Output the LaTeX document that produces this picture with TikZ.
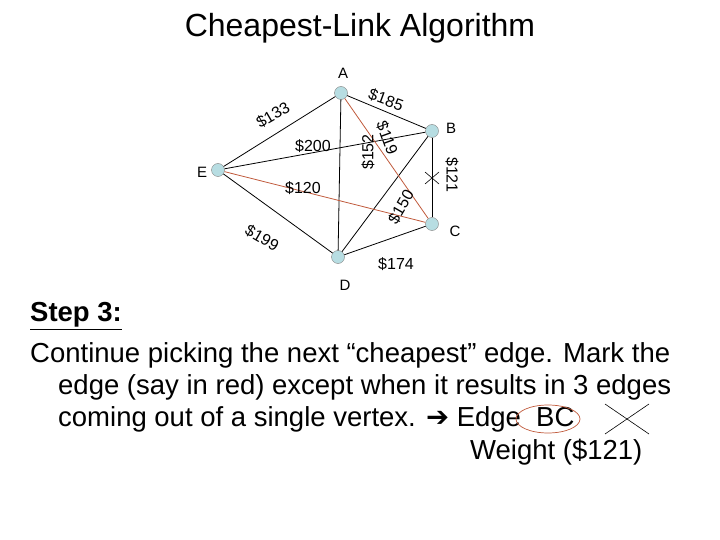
\documentclass[tikz,border=0pt]{standalone}
\usepackage{fontspec}
\setmainfont{Liberation Sans}
\usepackage{tikz}
\usetikzlibrary{positioning,calc}
\definecolor{vtx}{RGB}{183,221,226}
\definecolor{redge}{RGB}{192,90,60}
\tikzset{
  vertex/.style={circle,draw=gray,fill=vtx,minimum size=13pt,inner sep=0pt},
  edge/.style={draw=black,line width=0.8pt},
  redline/.style={draw=redge,line width=0.8pt},
  wlabel/.style={font=\fontsize{16}{16}\selectfont,inner sep=1pt},
  vlabel/.style={font=\fontsize{15}{15}\selectfont},
  bodytext/.style={font=\fontsize{27.5}{30}\selectfont,anchor=west,inner sep=0pt}
}
\begin{document}
\begin{tikzpicture}[x=1pt,y=-1pt]
\useasboundingbox (0,0) rectangle (720,540);
\node[font=\fontsize{32}{32}\selectfont] (title) at (360,28) {Cheapest-Link Algorithm};
% vertices
\node[vertex] (A) at (341,93) {};
\node[vertex] (B) at (432,131) {};
\node[vertex] (C) at (432,224) {};
\node[vertex] (D) at (338,257) {};
\node[vertex] (E) at (218,170) {};
\node[vlabel] at (343,73) {A};
\node[vlabel] at (451,128) {B};
\node[vlabel] at (455,231) {C};
\node[vlabel] at (345,285) {D};
\node[vlabel] at (202,172) {E};
% edges
\draw[edge] (A) -- (B);
\draw[edge] (A) -- (E);
\draw[edge] (A) -- (D);
\draw[edge] (E) -- (B);
\draw[edge] (E) -- (D);
\draw[edge] (B) -- (C);
\draw[edge] (B) -- (D);
\draw[edge] (D) -- (C);
\draw[redline] (A) -- (C);
\draw[redline] (E) -- (C);
% cross on BC
\coordinate (x) at (432,178);
\draw[line width=0.6pt] ($(x)+(-7,-6)$) -- ($(x)+(7,6)$) ($(x)+(-7,6)$) -- ($(x)+(7,-6)$);
% weights
\node[wlabel,rotate=-20] at (386,100) {\$185};
\node[wlabel,rotate=30] at (273,115) {\$133};
\node[wlabel] at (313,146) {\$200};
\node[wlabel,rotate=90] at (368,152) {\$152};
\node[wlabel,rotate=-70] at (387,138) {\$119};
\node[wlabel,rotate=-90] at (452,175) {\$121};
\node[wlabel] at (303,188) {\$120};
\node[wlabel,rotate=60] at (401,207) {\$150};
\node[wlabel,rotate=-30] at (262,238) {\$199};
\node[wlabel] at (396,264) {\$174};
% text
\node[bodytext,font=\bfseries\fontsize{27.5}{30}\selectfont] (step) at (30,316) {\underline{Step 3:}};
\node[bodytext] (l1) at (30,355) {Continue picking the next “cheapest” edge. Mark the};
\node[bodytext] (l2) at (58,387) {edge (say in red) except when it results in 3 edges};
\node[bodytext] (l3) at (58,419) {coming out of a single vertex. {\fontspec{DejaVu Sans}\bfseries ➔} Edge\ \ BC};
\node[bodytext] (l4) at (470,452) {Weight (\$121)};
\draw[redge,line width=0.7pt] (548,419) ellipse (32 and 14);
\coordinate (y) at (627,419);
\draw[line width=0.6pt] ($(y)+(-22,-15)$) -- ($(y)+(22,15)$) ($(y)+(-22,15)$) -- ($(y)+(22,-15)$);
\end{tikzpicture}
\end{document}
